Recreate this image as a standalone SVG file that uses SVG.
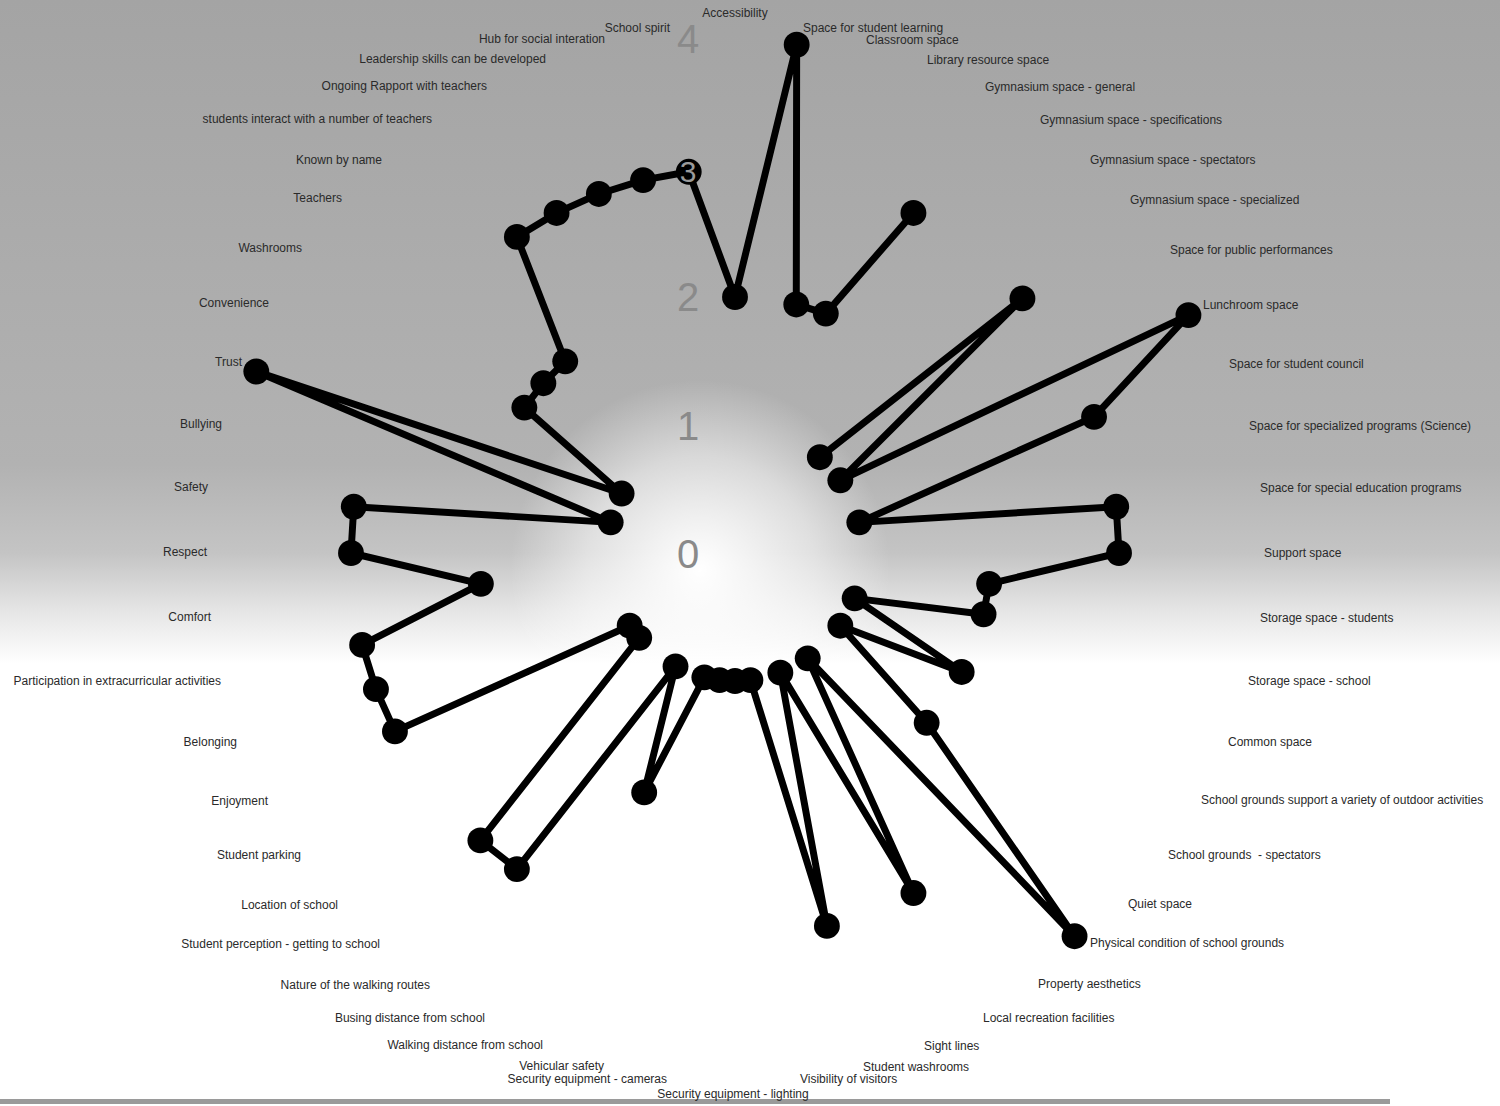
<svg xmlns="http://www.w3.org/2000/svg" width="1500" height="1106" viewBox="0 0 1500 1106">
<defs>
<linearGradient id="bg" x1="0" y1="0" x2="0" y2="1106" gradientUnits="userSpaceOnUse">
<stop offset="0" stop-color="#a4a4a4"/>
<stop offset="0.42" stop-color="#b2b2b2"/>
<stop offset="0.50" stop-color="#c4c4c4"/>
<stop offset="0.55" stop-color="#e4e4e4"/>
<stop offset="0.60" stop-color="#ffffff"/>
<stop offset="1" stop-color="#ffffff"/>
</linearGradient>
<radialGradient id="glow" cx="700" cy="570" r="190" gradientUnits="userSpaceOnUse">
<stop offset="0" stop-color="#ffffff" stop-opacity="1"/>
<stop offset="0.6" stop-color="#ffffff" stop-opacity="0.5"/>
<stop offset="1" stop-color="#ffffff" stop-opacity="0"/>
</radialGradient>
<style>
.lbl{font-family:"Liberation Sans",Arial,sans-serif;font-size:12px;fill:#2a2a2a}
.st{text-anchor:start}
.en{text-anchor:end}
.mi{text-anchor:middle}
.ax{font-family:"Liberation Sans",Arial,sans-serif;font-size:40px;fill:#8a8a8a;text-anchor:middle}
.ser{fill:none;stroke:#000;stroke-width:7;stroke-linejoin:round;stroke-linecap:round}
.m{fill:#000}
</style>
</defs>
<rect x="0" y="0" width="1500" height="1106" fill="url(#bg)"/>
<rect x="440" y="360" width="540" height="420" fill="url(#glow)"/>
<rect x="0" y="1099" width="1390" height="5" fill="#9a9a9a"/>

<g id="axis-scale">
<text class="ax" x="688" y="568">0</text>
<text class="ax" x="688" y="440">1</text>
<text class="ax" x="688" y="311">2</text>
<text class="ax" x="688" y="53">4</text>
</g>

<g id="connectors" transform="translate(735,553) scale(0.9946) translate(-734,-553)">
<polyline class="ser" points="819.3,456.7 1023,297 839.9,479.9 1189.9,313.8 1095,416.1 859,522.2 1117.3,506.5 1120.1,553 989.5,584 983.9,614.6 854.3,598.6 961.9,672.6 839.9,626.1 926.7,723.7 1075.4,938.3 807.1,658.9 913.4,894.9 779.6,673.3 826.4,927.9 749.5,680.8 734,681.7 718.5,680.8 703.2,678 642.7,793.7 674.2,667 514.7,870.8 478,842 637.7,638.3 628.1,626.1 392.1,732.4 373,689.9 359.1,645.4 478.5,584 347.9,553 350.7,506.5 609,522.2 252.7,370.5 620,493.2 522.2,406.8 541.3,382.3 563.3,360.3 514.7,235.2 554.6,211.1 597.1,192 641.6,178.1 687.5,169.7 734,295.6 796,42 795.6,303.1 825.3,312.3 913.4,211.1"/>
</g>

<g id="markers" transform="translate(735,553) scale(0.9946) translate(-734,-553)">
<g id="n0"><circle class="m" cx="734" cy="295.6" r="13"/></g>
<g id="n1"><circle class="m" cx="796" cy="42" r="13"/></g>
<g id="n2"><circle class="m" cx="795.6" cy="303.1" r="13"/></g>
<g id="n3"><circle class="m" cx="825.3" cy="312.3" r="13"/></g>
<g id="n4"><circle class="m" cx="913.4" cy="211.1" r="13"/></g>
<g id="n6"><circle class="m" cx="819.3" cy="456.7" r="13"/></g>
<g id="n7"><circle class="m" cx="1023" cy="297" r="13"/></g>
<g id="n8"><circle class="m" cx="839.9" cy="479.9" r="13"/></g>
<g id="n9"><circle class="m" cx="1189.9" cy="313.8" r="13"/></g>
<g id="n10"><circle class="m" cx="1095" cy="416.1" r="13"/></g>
<g id="n11"><circle class="m" cx="859" cy="522.2" r="13"/></g>
<g id="n12"><circle class="m" cx="1117.3" cy="506.5" r="13"/></g>
<g id="n13"><circle class="m" cx="1120.1" cy="553" r="13"/></g>
<g id="n14"><circle class="m" cx="989.5" cy="584" r="13"/></g>
<g id="n15"><circle class="m" cx="983.9" cy="614.6" r="13"/></g>
<g id="n16"><circle class="m" cx="854.3" cy="598.6" r="13"/></g>
<g id="n17"><circle class="m" cx="961.9" cy="672.6" r="13"/></g>
<g id="n18"><circle class="m" cx="839.9" cy="626.1" r="13"/></g>
<g id="n19"><circle class="m" cx="926.7" cy="723.7" r="13"/></g>
<g id="n20"><circle class="m" cx="1075.4" cy="938.3" r="13"/></g>
<g id="n21"><circle class="m" cx="807.1" cy="658.9" r="13"/></g>
<g id="n22"><circle class="m" cx="913.4" cy="894.9" r="13"/></g>
<g id="n23"><circle class="m" cx="779.6" cy="673.3" r="13"/></g>
<g id="n24"><circle class="m" cx="826.4" cy="927.9" r="13"/></g>
<g id="n25"><circle class="m" cx="749.5" cy="680.8" r="13"/></g>
<g id="n26"><circle class="m" cx="734" cy="681.7" r="13"/></g>
<g id="n27"><circle class="m" cx="718.5" cy="680.8" r="13"/></g>
<g id="n28"><circle class="m" cx="703.2" cy="678" r="13"/></g>
<g id="n29"><circle class="m" cx="642.7" cy="793.7" r="13"/></g>
<g id="n30"><circle class="m" cx="674.2" cy="667" r="13"/></g>
<g id="n31"><circle class="m" cx="514.7" cy="870.8" r="13"/></g>
<g id="n32"><circle class="m" cx="478" cy="842" r="13"/></g>
<g id="n33"><circle class="m" cx="637.7" cy="638.3" r="13"/></g>
<g id="n34"><circle class="m" cx="628.1" cy="626.1" r="13"/></g>
<g id="n35"><circle class="m" cx="392.1" cy="732.4" r="13"/></g>
<g id="n36"><circle class="m" cx="373" cy="689.9" r="13"/></g>
<g id="n37"><circle class="m" cx="359.1" cy="645.4" r="13"/></g>
<g id="n38"><circle class="m" cx="478.5" cy="584" r="13"/></g>
<g id="n39"><circle class="m" cx="347.9" cy="553" r="13"/></g>
<g id="n40"><circle class="m" cx="350.7" cy="506.5" r="13"/></g>
<g id="n41"><circle class="m" cx="609" cy="522.2" r="13"/></g>
<g id="n42"><circle class="m" cx="252.7" cy="370.5" r="13"/></g>
<g id="n43"><circle class="m" cx="620" cy="493.2" r="13"/></g>
<g id="n44"><circle class="m" cx="522.2" cy="406.8" r="13"/></g>
<g id="n45"><circle class="m" cx="541.3" cy="382.3" r="13"/></g>
<g id="n46"><circle class="m" cx="563.3" cy="360.3" r="13"/></g>
<g id="n47"><circle class="m" cx="514.7" cy="235.2" r="13"/></g>
<g id="n48"><circle class="m" cx="554.6" cy="211.1" r="13"/></g>
<g id="n49"><circle class="m" cx="597.1" cy="192" r="13"/></g>
<g id="n50"><circle class="m" cx="641.6" cy="178.1" r="13"/></g>
<g id="n51"><circle class="m" cx="687.5" cy="169.7" r="13"/></g>
</g>

<text class="ax" x="688" y="182" style="fill:#9a9a9a;font-size:30px">3</text>

<g id="category-labels">
<text class="lbl mi" x="735" y="17">Accessibility</text>
<text class="lbl st" x="803" y="32">Space for student learning</text>
<text class="lbl st" x="866" y="44">Classroom space</text>
<text class="lbl st" x="927" y="64">Library resource space</text>
<text class="lbl st" x="985" y="91">Gymnasium space - general</text>
<text class="lbl st" x="1040" y="124">Gymnasium space - specifications</text>
<text class="lbl st" x="1090" y="164">Gymnasium space - spectators</text>
<text class="lbl st" x="1130" y="204">Gymnasium space - specialized</text>
<text class="lbl st" x="1170" y="254">Space for public performances</text>
<text class="lbl st" x="1203" y="309">Lunchroom space</text>
<text class="lbl st" x="1229" y="368">Space for student council</text>
<text class="lbl st" x="1249" y="430">Space for specialized programs (Science)</text>
<text class="lbl st" x="1260" y="492">Space for special education programs</text>
<text class="lbl st" x="1264" y="557">Support space</text>
<text class="lbl st" x="1260" y="622">Storage space - students</text>
<text class="lbl st" x="1248" y="685">Storage space - school</text>
<text class="lbl st" x="1228" y="746">Common space</text>
<text class="lbl st" x="1201" y="804">School grounds support a variety of outdoor activities</text>
<text class="lbl st" x="1168" y="859" xml:space="preserve">School grounds  - spectators</text>
<text class="lbl st" x="1128" y="908">Quiet space</text>
<text class="lbl st" x="1090" y="947">Physical condition of school grounds</text>
<text class="lbl st" x="1038" y="988">Property aesthetics</text>
<text class="lbl st" x="983" y="1022">Local recreation facilities</text>
<text class="lbl st" x="924" y="1050">Sight lines</text>
<text class="lbl st" x="863" y="1071">Student washrooms</text>
<text class="lbl st" x="800" y="1083">Visibility of visitors</text>
<text class="lbl mi" x="733" y="1098">Security equipment - lighting</text>
<text class="lbl en" x="667" y="1083">Security equipment - cameras</text>
<text class="lbl en" x="604" y="1070">Vehicular safety</text>
<text class="lbl en" x="543" y="1049">Walking distance from school</text>
<text class="lbl en" x="485" y="1022">Busing distance from school</text>
<text class="lbl en" x="430" y="989">Nature of the walking routes</text>
<text class="lbl en" x="380" y="948">Student perception - getting to school</text>
<text class="lbl en" x="338" y="909">Location of school</text>
<text class="lbl en" x="301" y="859">Student parking</text>
<text class="lbl en" x="268" y="805">Enjoyment</text>
<text class="lbl en" x="237" y="746">Belonging</text>
<text class="lbl en" x="221" y="685">Participation in extracurricular activities</text>
<text class="lbl en" x="211" y="621">Comfort</text>
<text class="lbl en" x="207" y="556">Respect</text>
<text class="lbl en" x="208" y="491">Safety</text>
<text class="lbl en" x="222" y="428">Bullying</text>
<text class="lbl en" x="242" y="366">Trust</text>
<text class="lbl en" x="269" y="307">Convenience</text>
<text class="lbl en" x="302" y="252">Washrooms</text>
<text class="lbl en" x="342" y="202">Teachers</text>
<text class="lbl en" x="382" y="164">Known by name</text>
<text class="lbl en" x="432" y="123">students interact with a number of teachers</text>
<text class="lbl en" x="487" y="90">Ongoing Rapport with teachers</text>
<text class="lbl en" x="546" y="63">Leadership skills can be developed</text>
<text class="lbl en" x="605" y="43">Hub for social interation</text>
<text class="lbl en" x="670" y="32">School spirit</text>
</g>
</svg>
